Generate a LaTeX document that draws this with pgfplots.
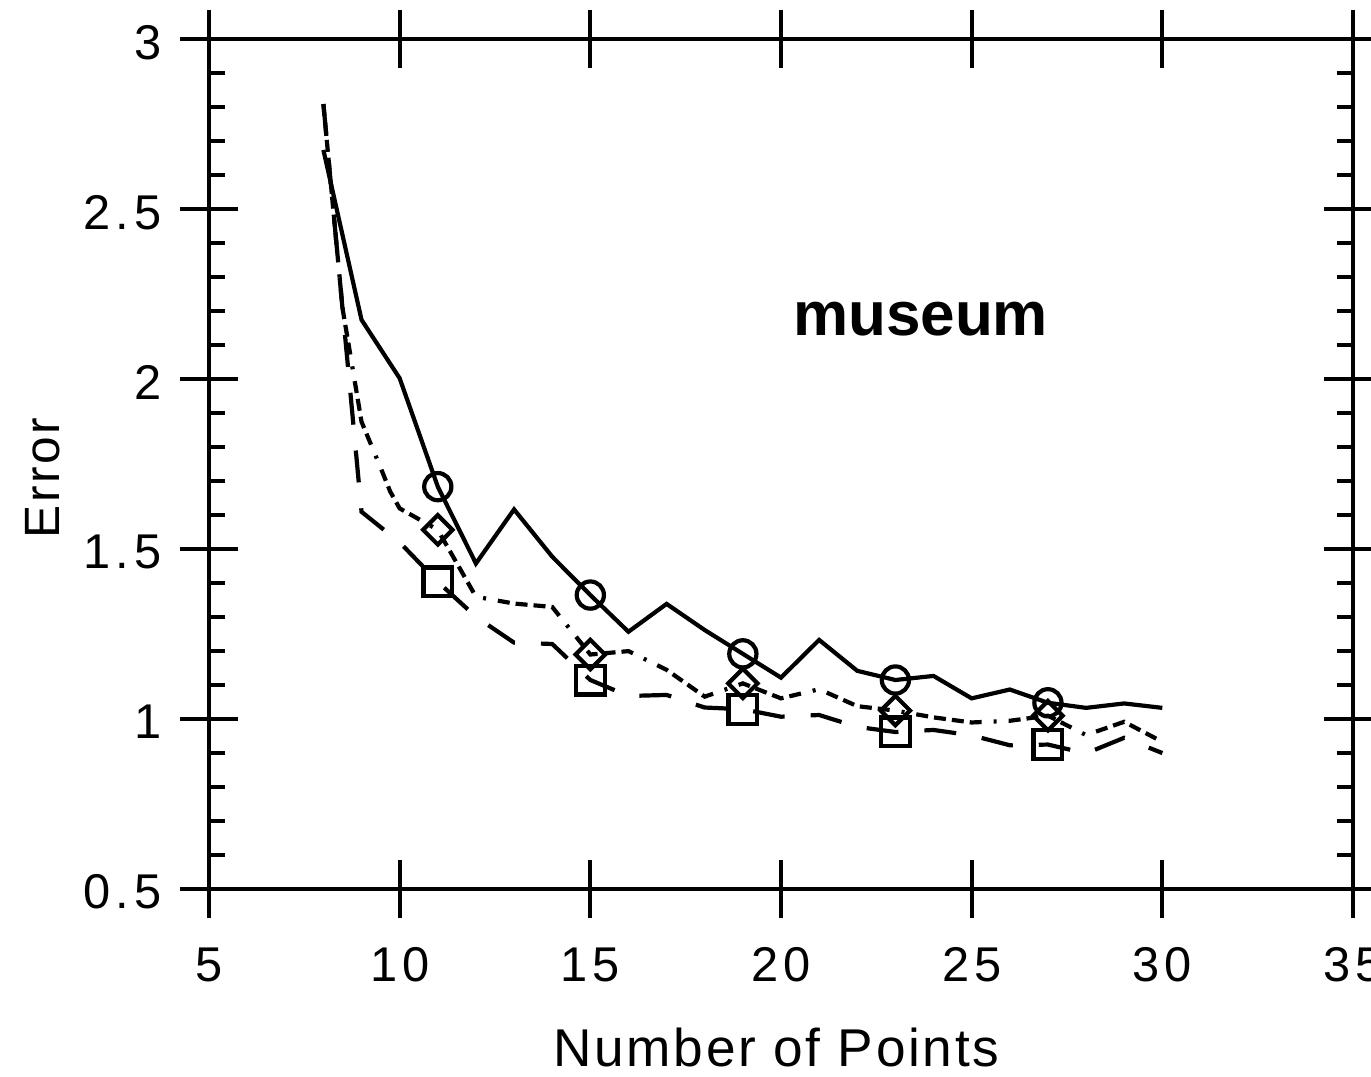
\documentclass[border=0pt]{standalone}
\usepackage{fontspec}
\setmainfont{Liberation Sans}
\newfontfamily\tickfont[LetterSpace=10]{Liberation Sans}
\newfontfamily\labfont[LetterSpace=5]{Liberation Sans}
\usepackage{pgfplots}
\usepackage{pgfplotstable}
\pgfplotsset{compat=1.18}

\pgfplotstableread{
x y
8 2.675
9 2.175
10 2.003
11 1.684
12 1.458
13 1.617
14 1.478
15 1.365
16 1.257
17 1.339
18 1.262
19 1.192
20 1.122
21 1.233
22 1.142
23 1.115
24 1.127
25 1.061
26 1.087
27 1.048
28 1.033
29 1.046
30 1.033
}\sone

\pgfplotstableread{
x y
8 2.81
8.5 2.21
9 1.875
9.5 1.74
9.75 1.67
10 1.62
11 1.557
12 1.36
13 1.34
14 1.33
15 1.19
16 1.20
17 1.145
18 1.066
19 1.105
20 1.061
21 1.088
22 1.038
23 1.025
24 1.005
25 0.99
26 0.995
27 1.01
28 0.953
29 0.992
30 0.933
}\stwo

\pgfplotstableread{
x y
8 2.81
9 1.61
10 1.52
11 1.404
12 1.301
13 1.225
14 1.221
15 1.115
16 1.068
17 1.071
18 1.034
19 1.029
20 1.007
21 1.012
22 0.977
23 0.962
24 0.968
25 0.952
26 0.923
27 0.925
28 0.899
29 0.945
30 0.90
}\sthree

\begin{document}
\begin{tikzpicture}
\begin{axis}[
  at={(0pt,0pt)}, anchor=south west,
  scale only axis, width=286pt, height=212.375pt,
  xmin=5, xmax=35, ymin=0.5, ymax=3,
  axis line style={line width=1pt, black},
  every tick/.style={line width=1pt, black},
  xtick={5,10,...,35}, ytick={0.5,1,...,3},
  minor y tick num=4,
  tick align=inside,
  major tick length=7.25pt, minor tick length=4pt,
  extra x ticks={5,10,...,35}, extra x tick labels={},
  extra y ticks={0.5,1,...,3}, extra y tick labels={},
  extra tick style={tick align=outside, major tick length=7.25pt},
  /pgf/number format/assume math mode=true,
  ticklabel style={font=\tickfont\fontsize{12.2}{14}\selectfont},
  xticklabel style={anchor=base, yshift=-23.25pt},
  yticklabel style={anchor=east, inner sep=0pt, xshift=-11.75pt, yshift=-0.75pt},
  xlabel={Number of Points},
  xlabel style={at={(axis description cs:0.496,-0.2095)}, anchor=base, inner sep=0pt,
    font=\labfont\fontsize{13.3}{16}\selectfont},
  ylabel={Error},
  ylabel style={at={(axis description cs:-0.1455,0.4838)}, anchor=center, inner sep=0pt,
    font=\labfont\fontsize{12.4}{15}\selectfont},
]
\addplot[black, line width=1.05pt, mark=o, mark size=3.4pt,
  mark indices={4,8,12,16,20}, mark options={solid}] table[x=x,y=y] {\sone};
\addplot[black, line width=1.05pt,
  dash pattern=on 3pt off 1.5pt on 3pt off 1.5pt on 3pt off 1.5pt on 3pt off 3pt on 0.75pt off 3pt,
  mark=square, mark size=2.6pt, mark options={solid, rotate=45},
  mark indices={7,11,15,19,23}] table[x=x,y=y] {\stwo};
\addplot[black, line width=1.05pt, dash pattern=on 8pt off 6.5pt,
  mark=square, mark size=3.6pt, mark options={solid},
  mark indices={4,8,12,16,20}] table[x=x,y=y] {\sthree};
\node[anchor=base, font=\bfseries\fontsize{15.5}{18}\selectfont] at (axis cs:23.66,2.13) {museum};
\end{axis}
\pgfresetboundingbox
\path[use as bounding box] (-52.25pt,-47pt) rectangle (290.5pt,222.25pt);
\end{tikzpicture}
\end{document}
